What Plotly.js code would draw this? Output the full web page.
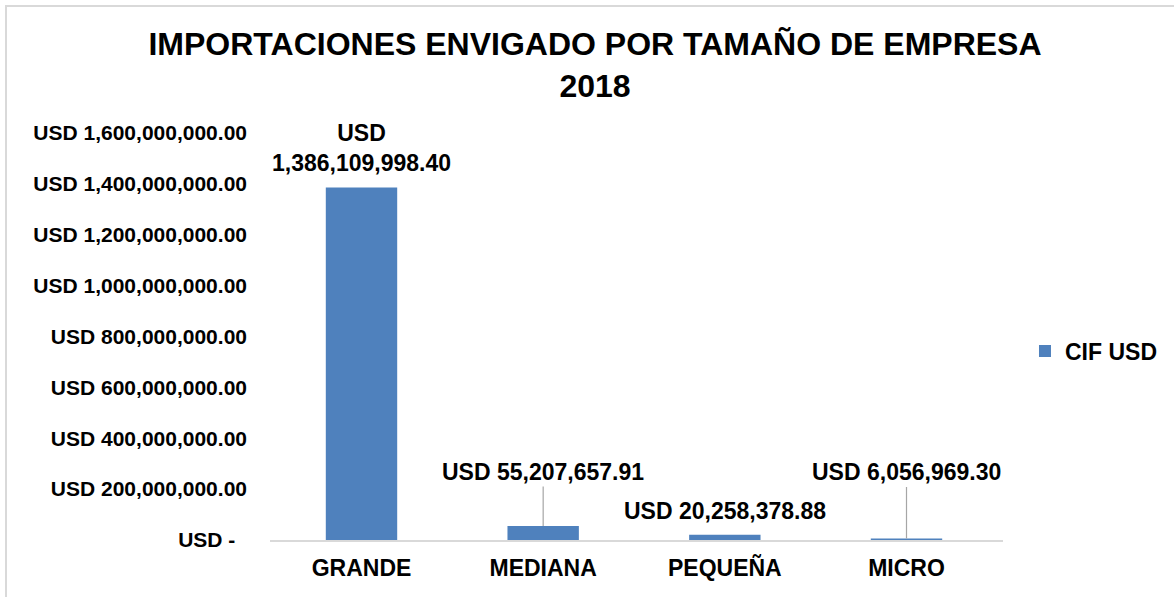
<!DOCTYPE html>
<html>
<head>
<meta charset="utf-8">
<script src="https://cdn.plot.ly/plotly-3.0.1.min.js"></script>
<style>
  html, body { margin: 0; padding: 0; overflow: hidden; background: #fff; }
  #chart { width: 1174px; height: 597px; }
  #frame { position: absolute; left: 5px; top: 5px; width: 1300px; height: 700px;
           border: 2px solid #d9d9d9; pointer-events: none; }
</style>
</head>
<body>
<div id="chart"></div>
<div id="frame"></div>
<script>
// datos
categorias = ["GRANDE", "MEDIANA", "PEQUEÑA", "MICRO"];
cifUsd = [1386109998.40, 55207657.91, 20258378.88, 6056969.30];
etiquetas = ["USD<br>1,386,109,998.40", "USD 55,207,657.91", "USD 20,258,378.88", "USD 6,056,969.30"];
ticksY = [0, 200000000, 400000000, 600000000, 800000000, 1000000000, 1200000000, 1400000000, 1600000000];
ticksYTexto = ["USD -\u00a0\u00a0", "USD 200,000,000.00", "USD 400,000,000.00", "USD 600,000,000.00",
  "USD 800,000,000.00", "USD 1,000,000,000.00", "USD 1,200,000,000.00", "USD 1,400,000,000.00",
  "USD 1,600,000,000.00"];

fuente = "Liberation Sans, Arial, sans-serif";

// offset of each label (px) and whether it has a leader line
offsetY = [-39, -54, -24, -66];
conLinea = [false, true, false, true];

tracks = [{
  x: categorias, y: cifUsd,
  type: "bar",
  name: "CIF USD",
  marker: {color: "#4f81bd"}
}];

anotaciones = [];
for (let i = 0; i < categorias.length; i++) {
  anotaciones.push({
    x: categorias[i], y: cifUsd[i],
    text: etiquetas[i],
    showarrow: true,
    ax: 0, ay: offsetY[i],
    arrowhead: 0, standoff: 0,
    arrowwidth: 1.2,
    arrowcolor: conLinea[i] ? "#a6a6a6" : "rgba(0,0,0,0)",
    font: {family: fuente, size: 23, color: "#000", weight: "bold"}
  });
}

layout = {
  title: {
    text: "IMPORTACIONES ENVIGADO POR TAMAÑO DE EMPRESA<br>2018",
    font: {family: fuente, size: 32, color: "#000", weight: "bold"},
    x: 595 / 1174, xanchor: "center",
    y: 1 - 55 / 597, yanchor: "top"
  },
  width: 1174, height: 597,
  margin: {l: 270, r: 171, t: 133, b: 57, pad: 0, autoexpand: false},
  bargap: 0.607,
  paper_bgcolor: "#fff", plot_bgcolor: "#fff",
  xaxis: {
    showline: true, linecolor: "#d9d9d9", linewidth: 1.5,
    showgrid: false, zeroline: false, ticks: "",
    tickfont: {family: fuente, size: 23, color: "#000", weight: "bold"},
    ticklabelstandoff: 7
  },
  yaxis: {
    range: [0, 1600000000],
    tickvals: ticksY, ticktext: ticksYTexto,
    showgrid: false, zeroline: false, showline: false, ticks: "",
    tickfont: {family: fuente, size: 21, color: "#000", weight: "bold"},
    ticklabelstandoff: 22
  },
  showlegend: true,
  legend: {
    x: 1.03, y: 0.464, xanchor: "left", yanchor: "middle",
    font: {family: fuente, size: 23, color: "#000", weight: "bold"},
    itemwidth: 30
  },
  annotations: anotaciones
};

Plotly.newPlot("chart", tracks, layout, {displayModeBar: false, staticPlot: true});
</script>
</body>
</html>
